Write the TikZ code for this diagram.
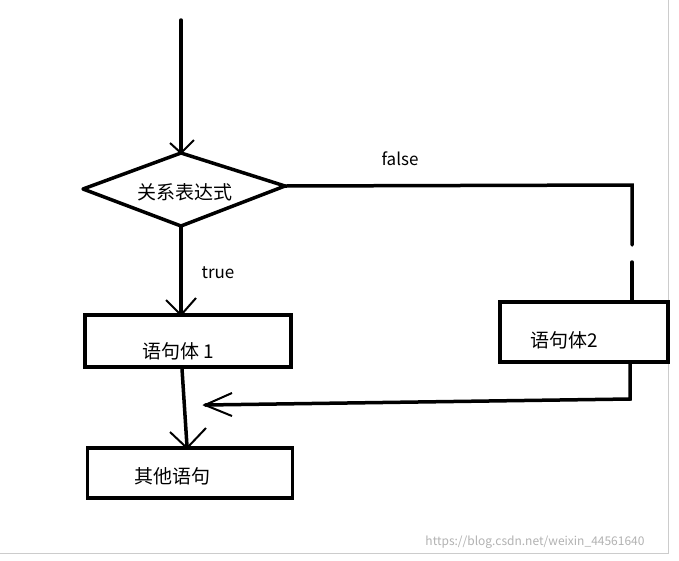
\documentclass[tikz,border=0pt]{standalone}
\usepackage{fontspec}
\setmainfont{Noto Sans CJK SC}
\usetikzlibrary{arrows.meta}
\begin{document}
\begin{tikzpicture}[x=1pt,y=-1pt,
  ln/.style={line width=3.5pt,line cap=round},
  lbl/.style={font=\fontsize{17}{20}\selectfont},
  txt/.style={font=\fontsize{19}{22}\selectfont}]
\useasboundingbox[fill=white] (0,0) rectangle (679,560);
\draw[gray!40,line width=1pt] (668,0) -- (668,553) -- (0,553);
\coordinate (start) at (181,20);
\coordinate (dt) at (181,153);
\coordinate (dl) at (83,189);
\coordinate (dr) at (285,186);
\coordinate (db) at (181,226);
\draw[ln,line join=round] (dt) -- (dr) -- (db) -- (dl) -- cycle;
\node[txt] (cond) at (185,192) {关系表达式};
\draw[ln] (start) -- (dt);
\draw[line width=2pt] (170,143) -- (181,153) -- (194,140);
\node[draw,line width=3.5pt,minimum width=206pt,minimum height=52pt,inner sep=0pt] (b1) at (188,341) {};
\node[txt] at (178,351) {语句体 1};
\node[draw,line width=3.5pt,minimum width=168pt,minimum height=60pt,inner sep=0pt] (b2) at (584,332) {};
\node[txt] at (564,340) {语句体2};
\node[draw,line width=3.5pt,minimum width=205pt,minimum height=50pt,inner sep=0pt] (b3) at (190,473) {};
\node[txt] at (172,476) {其他语句};
\draw[ln] (db) -- (b1.north -| db);
\draw[line width=2pt] (166,300) -- (181,315) -- (196,298);
\node[lbl] (t) at (218,273) {true};
\draw[ln] (dr) -- (632,185) -- (632,245);
\coordinate (f2) at (632,262);
\draw[ln] (f2) -- (b2.north -| f2);
\node[lbl] (f) at (400,159) {false};
\coordinate (r1) at (630,399);
\coordinate (r2) at (205,405);
\draw[ln] (b2.south -| r1) -- (r1) -- (r2);
\draw[line width=2pt] (232,393) -- (205,405) -- (232,416);
\draw[ln] (b1.south -| 182,0) -- (b3.north -| 187,0);
\draw[line width=2pt] (170,432) -- (187,448) -- (206,428);
\node[gray!60,font=\fontsize{12}{14}\selectfont] at (535,542) {https://blog.csdn.net/weixin\_44561640};
\end{tikzpicture}
\end{document}
